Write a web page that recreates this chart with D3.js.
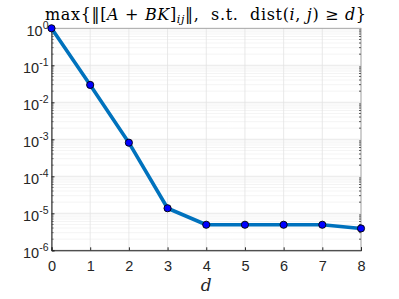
<!DOCTYPE html>
<html>
<head>
<meta charset="utf-8">
<script src="https://cdn.jsdelivr.net/npm/d3@7"></script>
<style>
  body { margin: 0; background: #fff; }
  text { font-family: "Liberation Sans", Arial, sans-serif; }
  .tex { font-family: "DejaVu Serif", "Liberation Serif", serif; white-space: pre; }
</style>
</head>
<body>
<div id="chart"></div>
<script>
var width = 399,
    height = 299;

var margin = {left: 51.5, right: 38, top: 28.3, bottom: 48.7};

// data
var dValues = [0, 1, 2, 3, 4, 5, 6, 7, 8];
var maxNorm = [1, 0.0295, 8.1e-4, 1.37e-5, 4.9e-6, 4.9e-6, 4.9e-6, 4.9e-6, 3.9e-6];
var yTickExps = [0, -1, -2, -3, -4, -5, -6];

var x = d3.scaleLinear().domain([0, 8]).range([margin.left, width - margin.right]);
var y = d3.scaleLog().domain([1e-6, 1]).range([height - margin.bottom, margin.top]);

var svg = d3.select("#chart").append("svg")
    .attr("width", width)
    .attr("height", height);

var x0 = x.range()[0], x1 = x.range()[1],
    yb = y.range()[0], yt = y.range()[1];

// minor grid
var minor = [];
for (var e = -6; e < 0; e++) {
  for (var m = 2; m <= 9; m++) minor.push(m * Math.pow(10, e));
}
svg.append("g").selectAll("line")
    .data(minor)
  .enter().append("line")
    .attr("x1", x0).attr("x2", x1)
    .attr("y1", function(d){ return y(d); })
    .attr("y2", function(d){ return y(d); })
    .attr("stroke", "#dcdcdc")
    .attr("stroke-width", 0.6)
    .attr("stroke-dasharray", "1,1");

// major grid
svg.append("g").selectAll("line")
    .data(dValues)
  .enter().append("line")
    .attr("x1", function(d){ return x(d); })
    .attr("x2", function(d){ return x(d); })
    .attr("y1", yb).attr("y2", yt)
    .attr("stroke", "#e3e3e3")
    .attr("stroke-width", 0.8);

svg.append("g").selectAll("line")
    .data(yTickExps)
  .enter().append("line")
    .attr("x1", x0).attr("x2", x1)
    .attr("y1", function(d){ return y(Math.pow(10, d)); })
    .attr("y2", function(d){ return y(Math.pow(10, d)); })
    .attr("stroke", "#e3e3e3")
    .attr("stroke-width", 0.8);

// box
svg.append("rect")
    .attr("x", x0).attr("y", yt)
    .attr("width", x1 - x0).attr("height", yb - yt)
    .attr("fill", "none")
    .attr("stroke", "#9a9a9a")
    .attr("stroke-width", 0.8);

// axes
var xAxis = d3.axisBottom(x).tickValues(dValues).tickSize(-3).tickPadding(10)
    .tickFormat(d3.format("d"));
var gx = svg.append("g")
    .attr("transform", "translate(0," + yb + ")")
    .call(xAxis);
gx.select(".domain").attr("stroke", "#262626");
gx.selectAll(".tick line").attr("stroke", "#262626");
gx.selectAll("text").attr("font-size", 14.5).attr("fill", "#262626");

var gy = svg.append("g")
    .attr("transform", "translate(" + x0 + ",0)")
    .call(d3.axisLeft(y).tickValues(yTickExps.map(function(e){ return Math.pow(10, e); }))
      .tickSize(-3).tickFormat(""));
gy.select(".domain").attr("stroke", "#262626");
gy.selectAll(".tick line").attr("stroke", "#262626");

// minor ticks on left and right
[x0, x1].forEach(function(px, i) {
  svg.append("g").selectAll("line")
      .data(minor)
    .enter().append("line")
      .attr("x1", px).attr("x2", i == 0 ? px + 2 : px - 2)
      .attr("y1", function(d){ return y(d); })
      .attr("y2", function(d){ return y(d); })
      .attr("stroke", "#555");
});

// y tick labels 10^k
var ylab = svg.append("g").selectAll("text")
    .data(yTickExps)
  .enter().append("text")
    .attr("x", x0 - 3)
    .attr("y", function(d){ return y(Math.pow(10, d)) + 8; })
    .attr("text-anchor", "end")
    .attr("fill", "#262626")
    .attr("font-size", 14.5);
ylab.append("tspan").text("10");
ylab.append("tspan")
    .attr("dy", -7)
    .attr("font-size", 10.5)
    .text(function(d){ return d; });

// line
var lineFunction = d3.line()
    .x(function(d, i){ return x(dValues[i]); })
    .y(function(d){ return y(d); });

svg.append("path")
    .datum(maxNorm)
    .attr("d", lineFunction)
    .attr("fill", "none")
    .attr("stroke", "#0072BD")
    .attr("stroke-width", 3.6)
    .attr("stroke-linejoin", "round");

svg.append("g").selectAll("circle")
    .data(maxNorm)
  .enter().append("circle")
    .attr("cx", function(d, i){ return x(dValues[i]); })
    .attr("cy", function(d){ return y(d); })
    .attr("r", 3.6)
    .attr("fill", "#0000ff")
    .attr("stroke", "#000")
    .attr("stroke-width", 0.9);

// title
var title = svg.append("text")
    .attr("class", "tex")
    .attr("x", 205.5)
    .attr("y", 19.5)
    .attr("text-anchor", "middle")
    .attr("font-size", 16)
    .attr("fill", "#000")
    .attr("textLength", 321)
    .attr("lengthAdjust", "spacing");
title.append("tspan").text("max{\u2016[");
title.append("tspan").attr("font-style", "italic").text("A");
title.append("tspan").text(" + ");
title.append("tspan").attr("font-style", "italic").text("BK");
title.append("tspan").text("]");
title.append("tspan").attr("font-style", "italic").attr("font-size", 11).attr("dy", 3.5).text("ij");
title.append("tspan").attr("dy", -3.5).text("\u2016,  s.t.  dist(");
title.append("tspan").attr("font-style", "italic").text("i");
title.append("tspan").text(", ");
title.append("tspan").attr("font-style", "italic").text("j");
title.append("tspan").text(") \u2265 ");
title.append("tspan").attr("font-style", "italic").text("d");
title.append("tspan").text("}");

// x label
svg.append("text")
    .attr("class", "tex")
    .attr("x", (x0 + x1) / 2)
    .attr("y", 291)
    .attr("text-anchor", "middle")
    .attr("font-size", 17)
    .attr("font-style", "italic")
    .attr("fill", "#262626")
    .text("d");
</script>
</body>
</html>
